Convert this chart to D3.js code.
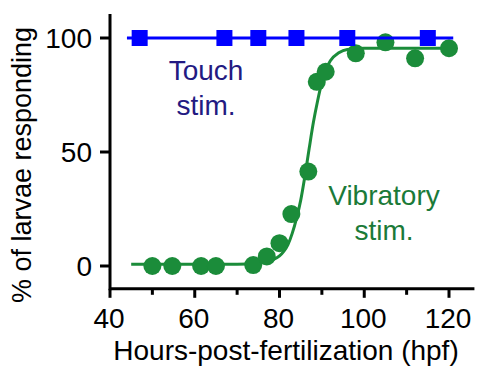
<!DOCTYPE html>
<html>
<head>
<meta charset="utf-8">
<script src="https://cdn.jsdelivr.net/npm/d3@7/dist/d3.min.js"></script>
<style>
  html, body { margin: 0; padding: 0; background: #fff; }
  svg { display: block; font-family: "Liberation Sans", Arial, Helvetica, sans-serif; }
</style>
</head>
<body>
<svg id="chart" width="478" height="369"></svg>
<script>
// Touch-evoked responses (percent of larvae responding) by age
const touchHours   = [47, 67, 75, 84, 96, 115];
const touchPercent = [100, 100, 100, 100, 100, 100];
const touchFitHours   = [44, 121];
const touchFitPercent = [100, 100];

// Vibration-evoked responses by age
const vibHours   = [50, 54.7, 61.5, 65, 73.8, 77, 80, 82.8, 86.8, 88.8, 90.9, 98, 105, 112, 120];
const vibPercent = [0, 0, 0, 0, 0.4, 4.2, 10, 22.8, 41.4, 80.8, 85.2, 93.3, 98.1, 91.1, 95.5];

// Sigmoidal fit through the vibration responses
const vibFitHours   = [45, 70, 75, 78, 80, 81, 82, 83, 84, 85, 86, 87, 88, 89, 90, 91, 92, 94, 96, 100, 120];
const vibFitPercent = [0.8, 0.8, 1.2, 2.4, 4.4, 6.4, 9.4, 14.3, 20.8, 28.8, 39.5, 51.5, 63, 72.5, 80.5, 86.3, 90, 93.5, 95, 95.5, 95.5];

// Axis ticks
const xMajorTicks = [40, 60, 80, 100, 120];
const xMinorTicks = [50, 70, 90, 110];
const yTicks = [0, 50, 100];

const svg = d3.select("#chart");

const x = d3.scaleLinear().domain([40, 120]).range([110, 449]);
const y = d3.scaleLinear().domain([0, 100]).range([266, 38]);

const green = "#1b8c3a";
const blue = "#0000ff";
const font = 28;

// Axes
const axisG = svg.append("g").attr("stroke", "#000").attr("stroke-width", 3).attr("fill", "none");
const xAxisY = y(-10);
axisG.append("line")
  .attr("x1", x(40)).attr("x2", x(126))
  .attr("y1", xAxisY).attr("y2", xAxisY);
axisG.append("line")
  .attr("x1", x(40)).attr("x2", x(40))
  .attr("y1", y(110.5)).attr("y2", xAxisY + 1.5);

axisG.selectAll(".xmaj").data(xMajorTicks).join("line")
  .attr("x1", d => x(d)).attr("x2", d => x(d))
  .attr("y1", xAxisY).attr("y2", xAxisY + 9);
axisG.selectAll(".xmin").data(xMinorTicks).join("line")
  .attr("x1", d => x(d)).attr("x2", d => x(d))
  .attr("y1", xAxisY).attr("y2", xAxisY + 6);
axisG.selectAll(".ytk").data(yTicks).join("line")
  .attr("x1", x(40) - 10).attr("x2", x(40))
  .attr("y1", d => y(d)).attr("y2", d => y(d));

svg.append("g").selectAll("text").data(xMajorTicks).join("text")
  .attr("x", d => x(d) - 1).attr("y", 328)
  .attr("text-anchor", "middle").attr("font-size", font)
  .text(d => d);
svg.append("g").selectAll("text").data(yTicks).join("text")
  .attr("x", x(40) - 18).attr("y", d => y(d))
  .attr("dy", "0.36em")
  .attr("text-anchor", "end").attr("font-size", font)
  .text(d => d);

svg.append("text")
  .attr("x", 286).attr("y", 360)
  .attr("text-anchor", "middle").attr("font-size", font)
  .text("Hours-post-fertilization (hpf)");
svg.append("text")
  .attr("transform", "translate(31,165) rotate(-90)")
  .attr("text-anchor", "middle").attr("font-size", 27)
  .text("% of larvae responding");

// Vibration series
const line = d3.line().x((d, i, a) => x(d[0])).y(d => y(d[1])).curve(d3.curveMonotoneX);
svg.append("path")
  .datum(vibFitHours.map((h, i) => [h, vibFitPercent[i]]))
  .attr("d", line)
  .attr("fill", "none").attr("stroke", green).attr("stroke-width", 3);
svg.append("g").selectAll("circle")
  .data(vibHours.map((h, i) => [h, vibPercent[i]]))
  .join("circle")
  .attr("cx", d => x(d[0])).attr("cy", d => y(d[1]))
  .attr("r", 9).attr("fill", green);

// Touch series
svg.append("path")
  .datum(touchFitHours.map((h, i) => [h, touchFitPercent[i]]))
  .attr("d", d3.line().x(d => x(d[0])).y(d => y(d[1])))
  .attr("fill", "none").attr("stroke", blue).attr("stroke-width", 3);
const sq = 16;
svg.append("g").selectAll("rect")
  .data(touchHours.map((h, i) => [h, touchPercent[i]]))
  .join("rect")
  .attr("x", d => x(d[0]) - sq / 2).attr("y", d => y(d[1]) - sq / 2)
  .attr("width", sq).attr("height", sq).attr("fill", blue);

// Series labels
const touchLabel = svg.append("text").attr("text-anchor", "middle")
  .attr("font-size", font).attr("fill", "#231a82");
touchLabel.append("tspan").attr("x", 206).attr("y", 80).text("Touch");
touchLabel.append("tspan").attr("x", 206).attr("y", 115).text("stim.");

const vibLabel = svg.append("text").attr("text-anchor", "middle")
  .attr("font-size", font).attr("fill", "#1b7a38");
vibLabel.append("tspan").attr("x", 384).attr("y", 205).text("Vibratory");
vibLabel.append("tspan").attr("x", 384).attr("y", 240).text("stim.");
</script>
</body>
</html>
